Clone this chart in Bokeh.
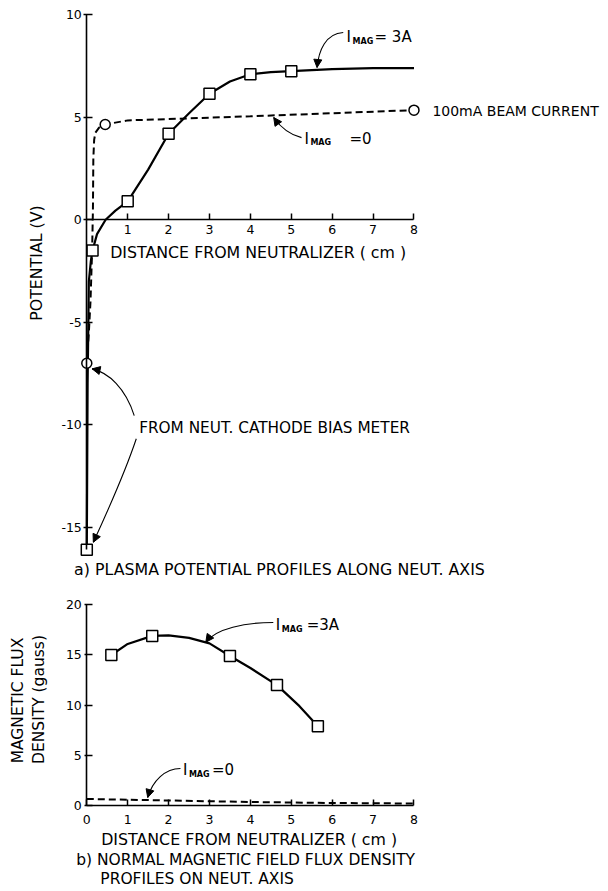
import math
from bokeh.plotting import figure
from bokeh.models import LinearAxis, FixedTicker, Label, Arrow, NormalHead, Range1d, PrintfTickFormatter
from bokeh.layouts import column
from bokeh.embed import file_html
from bokeh.resources import INLINE

FONT = "DejaVu Sans"

# ---------------- (a) plasma potential profiles ----------------
pot_xticks = [1, 2, 3, 4, 5, 6, 7, 8]
pot_yticks = [-15, -10, -5, 0, 5, 10]

# I_MAG = 3A : measured points (squares) and traced curve
mag3_x = [0.0, 0.14, 1.0, 2.0, 3.0, 4.0, 5.0]
mag3_v = [-16.1, -1.5, 0.9, 4.2, 6.15, 7.1, 7.25]
mag3_curve_x = [0.0, 0.02, 0.05, 0.10, 0.14, 0.25, 0.46, 0.7, 1.0, 1.5, 2.0, 2.5, 3.0, 3.5, 4.0, 4.5, 5.0, 6.0, 7.0, 8.0]
mag3_curve_v = [-16.1, -8.0, -3.0, -2.0, -1.5, -0.7, 0.0, 0.45, 0.9, 2.45, 4.2, 5.2, 6.15, 6.75, 7.1, 7.2, 7.25, 7.35, 7.4, 7.4]

# I_MAG = 0 : measured points (circles) and traced curve
mag0_x = [0.0, 0.45, 8.0]
mag0_v = [-7.0, 4.65, 5.35]
mag0_curve_x = [0.0, 0.05, 0.09, 0.13, 0.15, 0.16, 0.18, 0.21, 0.3, 0.45, 1.0, 4.0, 8.0]
mag0_curve_v = [-7.0, -5.5, -4.0, -1.5, 0.5, 3.0, 3.9, 4.25, 4.5, 4.65, 4.85, 5.05, 5.35]

# ---------------- (b) magnetic flux density ----------------
flux_xticks = [0, 1, 2, 3, 4, 5, 6, 7, 8]
flux_yticks = [0, 5, 10, 15, 20]

flux3_x = [0.6, 1.6, 3.5, 4.65, 5.65]
flux3_b = [15.0, 16.9, 14.9, 12.0, 7.9]
flux3_curve_x = [0.6, 1.0, 1.6, 2.0, 2.5, 3.0, 3.5, 4.0, 4.65, 5.2, 5.65]
flux3_curve_b = [15.0, 16.1, 16.9, 16.95, 16.7, 16.15, 14.9, 13.7, 12.0, 9.9, 7.9]

flux0_x = [0.0, 2.0, 4.0, 6.0, 8.0]
flux0_b = [0.65, 0.5, 0.35, 0.25, 0.2]

X_RANGE = (-2.110, 12.756)


def make_fig(height, yr):
    p = figure(frame_width=608, frame_height=height,
               x_range=Range1d(*X_RANGE), y_range=Range1d(*yr),
               x_axis_type=None, y_axis_type=None,
               output_backend="svg", toolbar_location=None,
               min_border=0, min_border_left=0, min_border_right=0,
               min_border_top=0, min_border_bottom=0)
    p.outline_line_color = None
    p.background_fill_color = "white"
    p.border_fill_color = "white"
    return p


def style_axis(ax, t_in, t_out, standoff):
    ax.axis_line_color = "black"
    ax.axis_line_width = 1.6
    ax.major_tick_line_color = "black"
    ax.major_tick_line_width = 1.5
    ax.major_tick_in = t_in
    ax.major_tick_out = t_out
    ax.minor_tick_line_color = None
    ax.formatter = PrintfTickFormatter(format="%d")
    ax.major_label_text_font = FONT
    ax.major_label_text_font_size = "12.5px"
    ax.major_label_text_color = "black"
    ax.major_label_standoff = standoff


def txt(p, x, y, s, size="15.5px", align="left", angle=0.0, xo=0, yo=0, style="normal"):
    p.add_layout(Label(x=x, y=y, text=s, text_font=FONT, text_font_size=size,
                       text_align=align, text_baseline="middle", angle=angle,
                       x_offset=xo, y_offset=yo, text_color="black",
                       text_font_style=style))


def imag(p, x, y, rest, rest_dx):
    txt(p, x, y, "I", size="15px")
    txt(p, x, y, "MAG", size="8px", xo=6, yo=-4, style="bold")
    txt(p, x, y, rest, size="15px", xo=rest_dx)


def curved_arrow(p, x0, y0, cx0, cy0, cx1, cy1, x1, y1):
    p.bezier(x0=[x0], y0=[y0], x1=[x1], y1=[y1], cx0=[cx0], cy0=[cy0],
             cx1=[cx1], cy1=[cy1], line_color="black", line_width=1.1)
    p.add_layout(Arrow(end=NormalHead(size=8, fill_color="black", line_color="black", line_width=1),
                       x_start=cx1, y_start=cy1, x_end=x1, y_end=y1, line_alpha=0))


# ================= figure (a) =================
p1 = make_fig(590, (-18.083, 10.698))

xa = LinearAxis(fixed_location=0, ticker=FixedTicker(ticks=pot_xticks), bounds=(0, 8))
style_axis(xa, 6, 0, 5)
p1.add_layout(xa, "below")
ya = LinearAxis(fixed_location=0, ticker=FixedTicker(ticks=pot_yticks), bounds=(-16.1, 10))
style_axis(ya, 6, 3, 2)
p1.add_layout(ya, "left")

p1.line(mag0_curve_x, mag0_curve_v, line_color="black", line_width=2, line_dash="7 4")
p1.line(mag3_curve_x, mag3_curve_v, line_color="black", line_width=2.2)
p1.scatter(mag3_x, mag3_v, marker="square", size=11, fill_color="white",
           line_color="black", line_width=1.5)
p1.scatter(mag0_x, mag0_v, marker="circle", size=10, fill_color="white",
           line_color="black", line_width=1.5)

txt(p1, 4.19, -1.61, "DISTANCE FROM NEUTRALIZER ( cm )", size="15.8px", align="center")
txt(p1, -0.31, -17.07, "a) PLASMA POTENTIAL PROFILES ALONG NEUT. AXIS", size="15.8px")
txt(p1, -1.23, -2.11, "POTENTIAL (V)", size="15.8px", align="center", angle=math.pi / 2)
txt(p1, 8.45, 5.33, "100mA BEAM CURRENT", size="14px")
txt(p1, 1.28, -10.17, "FROM NEUT. CATHODE BIAS METER", size="15.3px")

imag(p1, 6.35, 8.91, "= 3A", 28)
imag(p1, 5.32, 3.95, "=0", 45)

curved_arrow(p1, 6.27, 9.14, 5.84, 9.09, 5.67, 8.26, 5.63, 7.43)
curved_arrow(p1, 5.25, 4.01, 4.93, 4.16, 4.69, 4.65, 4.57, 4.99)
curved_arrow(p1, 1.16, -9.55, 0.95, -8.22, 0.53, -7.44, 0.13, -7.27)
curved_arrow(p1, 1.21, -10.68, 0.95, -12.23, 0.46, -14.43, 0.16, -15.73)

# ================= figure (b) =================
p2 = make_fig(300, (-8.470, 21.425))

xb = LinearAxis(fixed_location=0, ticker=FixedTicker(ticks=flux_xticks), bounds=(0, 8))
style_axis(xb, 6, 0, 9)
p2.add_layout(xb, "below")
yb = LinearAxis(fixed_location=0, ticker=FixedTicker(ticks=flux_yticks), bounds=(0, 20))
style_axis(yb, 6, 2, 3)
p2.add_layout(yb, "left")

p2.line(flux0_x, flux0_b, line_color="black", line_width=2, line_dash="7 4")
p2.line(flux3_curve_x, flux3_curve_b, line_color="black", line_width=2.2)
p2.scatter(flux3_x, flux3_b, marker="square", size=11, fill_color="white",
           line_color="black", line_width=1.5)

txt(p2, 3.97, -3.42, "DISTANCE FROM NEUTRALIZER ( cm )", size="15.8px", align="center")
txt(p2, -0.26, -5.41, "b) NORMAL MAGNETIC FIELD FLUX DENSITY", size="15.5px")
txt(p2, 0.33, -7.30, "PROFILES ON NEUT. AXIS", size="15.5px")
txt(p2, -1.68, 10.46, "MAGNETIC FLUX", size="15.5px", align="center", angle=math.pi / 2)
txt(p2, -1.16, 10.56, "DENSITY (gauss)", size="15.5px", align="center", angle=math.pi / 2)

imag(p2, 4.62, 17.94, "=3A", 31)
imag(p2, 2.35, 3.49, "=0", 29)

curved_arrow(p2, 4.56, 18.24, 3.88, 18.24, 3.15, 17.64, 2.91, 16.27)
curved_arrow(p2, 2.29, 3.69, 1.92, 3.69, 1.61, 2.49, 1.49, 0.8)

layout = column(p1, p2, spacing=0)
open("out.html", "w").write(file_html(layout, INLINE))
